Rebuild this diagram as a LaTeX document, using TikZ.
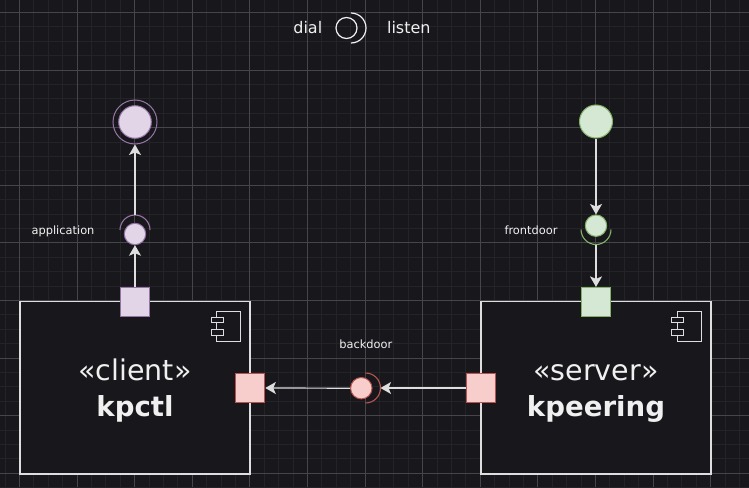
\documentclass[tikz,border=0pt]{standalone}
\usepackage{fontspec}
\setmainfont{DejaVu Sans}
\usetikzlibrary{arrows.meta}
\definecolor{bg}{RGB}{24,23,28}
\definecolor{gridminor}{RGB}{36,35,40}
\definecolor{gridmajor}{RGB}{70,69,74}
\definecolor{lineclr}{RGB}{222,222,222}
\definecolor{txt}{RGB}{240,240,240}
\definecolor{pfill}{HTML}{E1D5E7}
\definecolor{pline}{HTML}{9673A6}
\definecolor{gfill}{HTML}{D5E8D4}
\definecolor{gline}{HTML}{82B366}
\definecolor{rfill}{HTML}{F8CECC}
\definecolor{rline}{HTML}{B85450}
\tikzset{
  comp/.style={draw=lineclr, fill=bg, line width=1.3pt, inner sep=0pt},
  port/.style={rectangle, minimum size=29pt, inner sep=0pt, line width=1.2pt},
  portP/.style={port, draw=pline, fill=pfill},
  portG/.style={port, draw=gline, fill=gfill},
  portR/.style={port, draw=rline, fill=rfill},
  iface/.style={circle, minimum size=21.4pt, inner sep=0pt, line width=1pt},
  conn/.style={draw=lineclr, line width=1.2pt, -{Stealth[length=10.5pt,width=12pt,inset=2.5pt]}},
  sock/.style={line width=1.1pt},
  icon/.style={draw=lineclr, line width=0.9pt},
  lbl/.style={text=txt, inner sep=0pt, anchor=base, font=\fontsize{11.4}{13}\selectfont},
  title/.style={text=txt, inner sep=0pt, anchor=base},
}
\begin{document}
\begin{tikzpicture}[x=1pt,y=-1pt]
\fill[bg] (0,0) rectangle (749,487);
\useasboundingbox (0,0) rectangle (749,487);
% grid
\foreach \k in {0,...,52} {
  \draw[gridminor, line width=0.8pt] ({4.9+14.4*\k},0) -- ({4.9+14.4*\k},487);
}
\foreach \k in {0,...,33} {
  \draw[gridminor, line width=0.8pt] (0,{12.3+14.4*\k}) -- (749,{12.3+14.4*\k});
}
\foreach \k in {0,...,12} {
  \draw[gridmajor, line width=0.8pt] ({19.3+57.6*\k},0) -- ({19.3+57.6*\k},487);
}
\foreach \k in {0,...,8} {
  \draw[gridmajor, line width=0.8pt] (0,{12.3+57.6*\k}) -- (749,{12.3+57.6*\k});
}

% legend
\node[title, font=\fontsize{16}{19}\selectfont] (dial) at (307.8,34) {dial};
\node[title, font=\fontsize{16}{19}\selectfont] (listen) at (408.8,34) {listen};
\node[circle, draw=txt, line width=1.2pt, minimum size=21pt, inner sep=0pt] (legc) at (346.5,28) {};
\coordinate (lega) at (351,13);
\draw[draw=txt, line width=1.2pt] (lega) arc[start angle=90, end angle=-90, radius=15pt];

% components
\node[comp, minimum width=230pt, minimum height=172.5pt] (client) at (135,387.75) {};
\node[comp, minimum width=230pt, minimum height=172.5pt] (server) at (596,387.75) {};

% component icons
\draw[icon] (216.7,311.7) rectangle (240.7,341);
\draw[icon, fill=bg] (211,317.7) rectangle (223,322.7);
\draw[icon, fill=bg] (211,329.3) rectangle (223,335);
\draw[icon] (677.3,311.7) rectangle (701.3,341);
\draw[icon, fill=bg] (671.7,317.7) rectangle (683.7,322.7);
\draw[icon, fill=bg] (671.7,329.3) rectangle (683.7,335);

% component titles
\node[title, font=\fontsize{28.5}{32}\selectfont] (cst) at (135,380.7) {«client»};
\node[title, font=\bfseries\fontsize{27.6}{32}\selectfont] (cname) at (135,416.7) {kpctl};
\node[title, font=\fontsize{28.5}{32}\selectfont] (sst) at (596,380.7) {«server»};
\node[title, font=\bfseries\fontsize{27.6}{32}\selectfont] (sname) at (596,416.7) {kpeering};

% ports
\node[portP] (cport) at (135,301.8) {};
\node[portR] (crport) at (250.2,388) {};
\node[portR] (slport) at (480.7,388) {};
\node[portG] (sport) at (596,302) {};

% application (purple)
\node[circle, draw=pline, line width=1pt, minimum size=44pt, inner sep=0pt] (appe) at (135,122) {};
\node[circle, draw=pline, fill=pfill, line width=1pt, minimum size=32.6pt, inner sep=0pt] (appin) at (135,122) {};
\node[iface, draw=pline, fill=pfill] (appi) at (135,234) {};
\coordinate (appl) at (120,230);
\coordinate (appt) at (135,215);
\draw[sock, draw=pline] (appl) arc[start angle=180, end angle=0, radius=15pt];
\node[lbl] (applbl) at (63,234) {application};
\draw[conn] (cport.north) -- (appi.south);
\draw[conn] (appt) -- (appe.south);

% frontdoor (green)
\node[circle, draw=gline, fill=gfill, line width=1pt, minimum size=33pt, inner sep=0pt] (fe) at (596,121.5) {};
\node[iface, draw=gline, fill=gfill] (fi) at (596,225.7) {};
\coordinate (fl) at (581,229.5);
\coordinate (fb) at (596,244.5);
\draw[sock, draw=gline] (fl) arc[start angle=180, end angle=360, radius=15pt];
\node[lbl] (flbl) at (531,234) {frontdoor};
\draw[conn] (fe.south) -- (fi.north);
\draw[conn] (fb) -- (sport.north);

% backdoor (red)
\node[iface, draw=rline, fill=rfill] (bi) at (361.3,388.2) {};
\coordinate (bt) at (365.5,373);
\coordinate (br) at (380.5,388);
\draw[sock, draw=rline] (bt) arc[start angle=90, end angle=-90, radius=15pt];
\node[lbl] (blbl) at (365.8,348.3) {backdoor};
\draw[conn] (slport.west) -- (br);
\draw[conn] (bi.west) -- (crport.east);
\end{tikzpicture}
\end{document}
